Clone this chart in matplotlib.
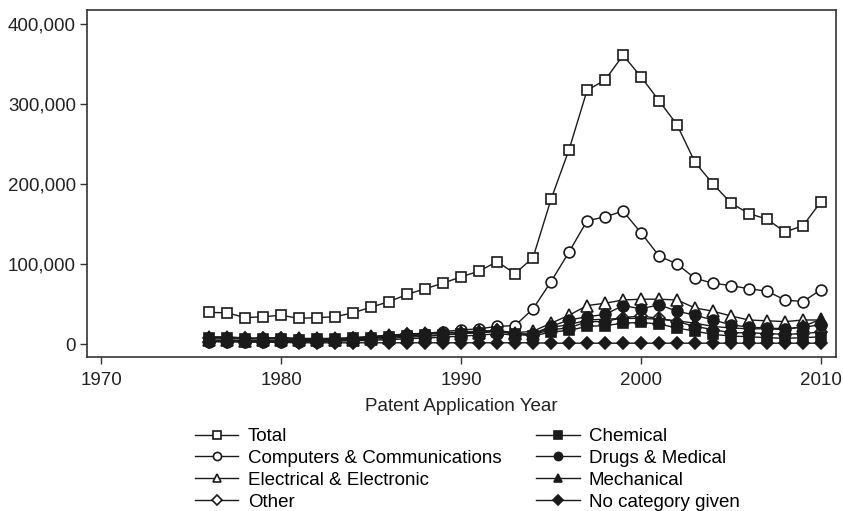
import numpy as np
import matplotlib
matplotlib.use("Agg")
import matplotlib.pyplot as plt
from matplotlib.ticker import FuncFormatter

plt.rcParams["font.family"] = ["Liberation Sans", "DejaVu Sans"]

# patent applications per year, in thousands
years = list(range(1976, 2011))

total = [39.5, 39, 33, 34, 36, 32, 33, 34, 39, 46, 53, 62, 69, 76, 84, 91, 103, 88, 108,
         181, 243, 317, 330, 361, 334, 304, 274, 227, 200, 176, 163, 156, 140, 148, 178]
computers = [4, 4, 3.5, 3.5, 4, 4, 4.5, 5, 6, 7.5, 9, 11, 13, 15.5, 17.5, 19, 22, 23, 44,
             78, 115, 154, 159, 166, 139, 110, 100, 82, 76, 73, 69, 66, 55, 53, 68]
electrical = [5, 5, 4, 4.5, 5, 4.5, 4.5, 4.5, 5, 6, 7, 8.5, 9.5, 11, 13, 14, 17, 14, 16,
              26, 36, 48, 51, 55, 56, 56, 55, 45, 41, 35, 30, 29, 28, 30, 30]
other = [8, 8, 7, 7, 7.5, 6.5, 6.5, 6.5, 7.5, 9, 10, 12, 13, 14, 14, 15.5, 17, 13, 11.5,
         18, 20, 28, 28, 33, 35, 32, 28, 22, 18, 14, 14, 13, 12, 13, 15]
chemical = [7.5, 7, 6, 6.5, 6.5, 5.5, 6, 6, 7, 8, 9, 10, 11, 11.5, 13, 14, 15.5, 12.5, 10,
            15, 17, 22, 23, 26, 27, 25, 20, 16, 12, 10, 9, 8, 7, 8, 9]
drugs = [3, 3, 2.5, 2.5, 3, 3, 3, 3.5, 4, 4.5, 5.5, 6.5, 7.5, 8.5, 10, 11, 13, 11, 13,
         22, 30, 34, 37, 48, 44, 49, 41, 36, 30, 24, 21, 20, 19, 21, 24]
mechanical = [9, 9, 7.5, 7.5, 8, 7, 7, 7, 8, 9.5, 11, 12.5, 13.5, 14, 15, 16, 17, 13, 12,
              21, 24, 30, 31, 32, 32, 31, 29, 26, 22, 20, 19, 19, 18, 22, 31]
no_category = [3, 3, 2.5, 2.5, 2, 1.5, 1.5, 1.5, 1.5, 1.5, 1.5, 1.5, 1.5, 1.5, 1.5, 1.5, 1.5, 1.5, 1.5,
               1, 1, 1, 1, 1, 1, 1, 1, 1, 1, 1, 1, 1, 1, 1, 1]

series = [
    ("Total", total, "s", "white"),
    ("Computers & Communications", computers, "o", "white"),
    ("Electrical & Electronic", electrical, "^", "white"),
    ("Other", other, "D", "white"),
    ("Chemical", chemical, "s", "#1a1a1a"),
    ("Drugs & Medical", drugs, "o", "#1a1a1a"),
    ("Mechanical", mechanical, "^", "#1a1a1a"),
    ("No category given", no_category, "D", "#1a1a1a"),
]
marker_sizes = {"s": 7.5, "o": 7.8, "^": 8.5, "D": 6.2}

fig = plt.figure(figsize=(8.43, 5.11), dpi=100)
ax = fig.add_axes([87 / 843, 1 - 357 / 511, (836 - 87) / 843, (357 - 10) / 511])

line_col = "#1a1a1a"
for name, vals, mk, fc in series:
    ax.plot(years, np.array(vals) * 1000, color=line_col, lw=1.0,
            marker=mk, markersize=marker_sizes[mk], markerfacecolor=fc,
            markeredgecolor=line_col, markeredgewidth=1.2, label=name)

ax.set_xlim(1969.22, 2010.83)
ax.set_ylim(-16250, 417500)
ax.set_xticks([1970, 1980, 1990, 2000, 2010])
ax.set_yticks([0, 100000, 200000, 300000, 400000])
ax.yaxis.set_major_formatter(FuncFormatter(lambda v, p: f"{int(v):,}"))
ax.tick_params(direction="out", length=5, width=1.0, color="#333333",
               labelsize=13.5, labelcolor="#222222", pad=3)
ax.tick_params(axis="x", pad=6)
for sp in ax.spines.values():
    sp.set_color("#333333")
    sp.set_linewidth(1.2)

ax.set_xlabel("Patent Application Year", fontsize=13.5, color="#222222", labelpad=6)

# legend in two columns under the x label
fig.legend(loc="upper center", bbox_to_anchor=(467.5 / 843, 1 - 428 / 511),
           ncol=2, frameon=False, fontsize=13.5, handlelength=2.3,
           handletextpad=0.5, columnspacing=1.87, labelspacing=0.25,
           markerscale=0.75, borderpad=0, borderaxespad=0)

fig.savefig("out.png", dpi=100)
